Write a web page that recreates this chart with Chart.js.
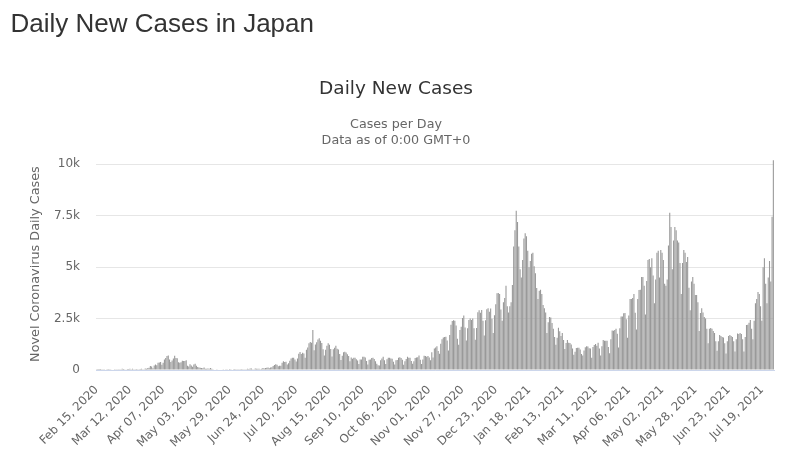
<!DOCTYPE html>
<html>
<head>
<meta charset="utf-8">
<script src="https://cdn.jsdelivr.net/npm/chart.js@4.4.0/dist/chart.umd.min.js"></script>
<style>
  html, body { margin: 0; padding: 0; background: #ffffff; }
  #wrap { position: relative; width: 792px; height: 462px; overflow: hidden; }
  #heading { position: absolute; left: 10.5px; top: 9.7px; font: 26px/26px "Liberation Sans", Arial, sans-serif; color: #333333; white-space: nowrap; }
  #c { position: absolute; left: 0; top: 0; }
</style>
</head>
<body>
<div id="wrap">
  <canvas id="c" width="792" height="462"></canvas>
  <div id="heading">Daily New Cases in Japan</div>
</div>
<script>
// ---- Data (daily new cases) ----
const startDate = Date.UTC(2020, 1, 15); // Feb 15, 2020
const feb2020 = [8, 5, 6, 3, 11, 12, 9, 24, 14, 5, 14, 14, 21, 22, 9];
const mar2020 = [12, 15, 15, 33, 34, 59, 47, 33, 26, 54, 52, 56, 41, 64, 37, 15, 44, 39, 35, 43, 56, 40, 41, 71, 65, 98, 112, 194, 173, 87, 220];
const apr2020 = [266, 235, 351, 368, 383, 252, 351, 515, 579, 680, 700, 507, 390, 457, 560, 690, 585, 568, 373, 351, 378, 451, 432, 443, 470, 203, 173, 275, 224, 160];
const may2020 = [264, 299, 203, 147, 123, 104, 93, 91, 116, 56, 59, 77, 55, 99, 56, 41, 21, 29, 31, 24, 28, 21, 27, 15, 21, 14, 38, 26, 44, 40, 27];
const jun2020 = [37, 51, 35, 40, 42, 36, 47, 13, 42, 37, 41, 61, 44, 72, 69, 33, 41, 67, 60, 57, 60, 34, 57, 96, 75, 101, 107, 117, 80, 120];
const jul2020 = [128, 195, 249, 274, 255, 185, 206, 204, 355, 430, 386, 407, 268, 333, 451, 560, 594, 600, 511, 418, 560, 795, 880, 781, 841, 800, 598, 981, 1100, 1301, 1360];
const aug2020 = [1330, 1950, 958, 1242, 1354, 1485, 1550, 1420, 1310, 1010, 700, 985, 1177, 1300, 1232, 1018, 655, 1004, 1080, 1175, 1035, 1000, 775, 492, 699, 864, 883, 850, 760, 683, 425];
const sep2020 = [610, 553, 595, 592, 521, 468, 287, 509, 512, 650, 640, 610, 437, 269, 499, 510, 580, 595, 540, 420, 303, 235, 220, 480, 555, 640, 475, 290, 519, 600];
const oct2020 = [600, 560, 550, 400, 270, 480, 490, 600, 620, 580, 500, 250, 420, 540, 650, 600, 600, 440, 310, 430, 580, 610, 620, 710, 500, 290, 510, 690, 680, 650, 680];
const nov2020 = [610, 480, 860, 612, 1040, 1100, 1150, 928, 789, 1279, 1500, 1580, 1600, 1620, 1437, 949, 1699, 2200, 2380, 2420, 2400, 2168, 1520, 1227, 1950, 2100, 2530, 2650, 2068, 1438];
const dec2020 = [2031, 2431, 2510, 2437, 2508, 2029, 1472, 2047, 2811, 2900, 2788, 2920, 2393, 1680, 2416, 2950, 3000, 2835, 2992, 2489, 1800, 2660, 3200, 3737, 3750, 3700, 2947, 2395, 3300, 3500, 4100];
const jan2021 = [3100, 2800, 3100, 3300, 4130, 6000, 6800, 7750, 7200, 6000, 4900, 4500, 5350, 6400, 6650, 6500, 5800, 5000, 5300, 5650, 5700, 5050, 4700, 3990, 3450, 3850, 3900, 3700, 3160, 3000, 2800];
const feb2021 = [1800, 2324, 2580, 2550, 2287, 2000, 1608, 1222, 1569, 2050, 1880, 1655, 1800, 1455, 1019, 1309, 1460, 1328, 1311, 1245, 1050, 739, 888, 1073, 1087, 1080, 996, 781];
const mar2021 = [700, 950, 1106, 1150, 1140, 1057, 1050, 600, 1120, 1215, 1260, 1180, 1320, 1050, 700, 1160, 1460, 1420, 1420, 1420, 1120, 816, 1500, 1917, 1914, 1950, 2000, 1760, 1100, 2030, 2600];
const apr2021 = [2600, 2760, 2770, 2470, 1570, 2650, 3450, 3451, 3500, 3697, 2780, 1970, 3450, 3890, 3900, 4520, 4520, 4100, 2700, 4328, 5350, 5400, 5000, 5440, 4600, 3250, 4400, 5700, 5800, 4500];
const may2021 = [5830, 5700, 5350, 4200, 4100, 4400, 6054, 7650, 6950, 4900, 6300, 6950, 6800, 6300, 6200, 5200, 3700, 5200, 5830, 5700, 5250, 5500, 4000, 2900, 4300, 4520, 4200, 3650, 3650, 3300, 1900];
const jun2021 = [2770, 3000, 2800, 2580, 2500, 2000, 1300, 2000, 2040, 2000, 1900, 1800, 1400, 940, 1400, 1700, 1650, 1600, 1580, 1300, 800, 1400, 1650, 1700, 1650, 1600, 1400, 900, 1500, 1780];
const jul2021 = [1750, 1800, 1750, 1500, 900, 1600, 2190, 2200, 2300, 2430, 2000, 1500, 2400, 3250, 3450, 3790, 3700, 3100, 2400, 5000, 5440, 4200, 3250, 4500, 5300, 4300, 7450, 10200];

const tickLabels = ['Feb 15, 2020', 'Mar 12, 2020', 'Apr 07, 2020', 'May 03, 2020', 'May 29, 2020', 'Jun 24, 2020',
  'Jul 20, 2020', 'Aug 15, 2020', 'Sep 10, 2020', 'Oct 06, 2020', 'Nov 01, 2020', 'Nov 27, 2020', 'Dec 23, 2020',
  'Jan 18, 2021', 'Feb 13, 2021', 'Mar 11, 2021', 'Apr 06, 2021', 'May 02, 2021', 'May 28, 2021', 'Jun 23, 2021', 'Jul 19, 2021'];
const yTicks = [0, 2500, 5000, 7500, 10000];

const dailyCases = [].concat(feb2020, mar2020, apr2020, may2020, jun2020, jul2020, aug2020, sep2020, oct2020,
  nov2020, dec2020, jan2021, feb2021, mar2021, apr2021, may2021, jun2021, jul2021);
const MONTHS = ['Jan', 'Feb', 'Mar', 'Apr', 'May', 'Jun', 'Jul', 'Aug', 'Sep', 'Oct', 'Nov', 'Dec'];
const categories = dailyCases.map(function (_, i) {
  const d = new Date(startDate + i * 86400000);
  return MONTHS[d.getUTCMonth()] + ' ' + String(d.getUTCDate()).padStart(2, '0') + ', ' + d.getUTCFullYear();
});

Chart.defaults.font.family = '"DejaVu Sans", Verdana, sans-serif';

new Chart(document.getElementById('c').getContext('2d'), {
  type: 'bar',
  data: {
    labels: categories,
    datasets: [{
      data: dailyCases,
      backgroundColor: '#999999',
      borderWidth: 0,
      barPercentage: 0.85,
      categoryPercentage: 1.0
    }]
  },
  options: {
    responsive: false,
    animation: false,
    events: [],
    layout: { padding: { left: 0, right: 0, top: 0, bottom: 0 } },
    plugins: {
      legend: { display: false },
      tooltip: { enabled: false },
      title: {
        display: true,
        text: 'Daily New Cases',
        color: '#333333',
        font: { size: 18.5, weight: 'normal', lineHeight: 1.2 },
        padding: { top: 78, bottom: 0 }
      },
      subtitle: {
        display: true,
        text: ['Cases per Day', 'Data as of 0:00 GMT+0'],
        color: '#666666',
        font: { size: 12.7, weight: 'normal', lineHeight: 16 / 12.7 },
        padding: { top: 16, bottom: 10 }
      }
    },
    scales: {
      x: {
        offset: true,
        grid: { display: false },
        border: { display: true, color: '#ccd6eb', width: 1 },
        ticks: {
          autoSkip: false,
          minRotation: 45,
          maxRotation: 45,
          padding: 5,
          color: '#666666',
          font: { size: 11.8 },
          callback: function (v, i) {
            const l = categories[i];
            return tickLabels.indexOf(l) >= 0 ? l : null;
          }
        },
        afterFit: function (s) { s.height = 92; }
      },
      y: {
        min: 0,
        max: 10300,
        afterBuildTicks: function (s) { s.ticks = yTicks.map(function (v) { return { value: v }; }); },
        grid: { color: '#e6e6e6', drawTicks: false },
        border: { display: false },
        ticks: {
          padding: 16,
          color: '#666666',
          font: { size: 12 },
          callback: function (v) { return v === 0 ? '0' : (v / 1000) + 'k'; }
        },
        title: {
          display: true,
          text: 'Novel Coronavirus Daily Cases',
          color: '#666666',
          font: { size: 12.8 },
          padding: { top: 27.7, bottom: 0 }
        },
        afterFit: function (s) { s.width = 96; }
      },
      yRight: {
        position: 'right',
        grid: { display: false },
        border: { display: false },
        ticks: { display: false },
        afterFit: function (s) { s.width = 18; }
      }
    }
  }
});
</script>
</body>
</html>
